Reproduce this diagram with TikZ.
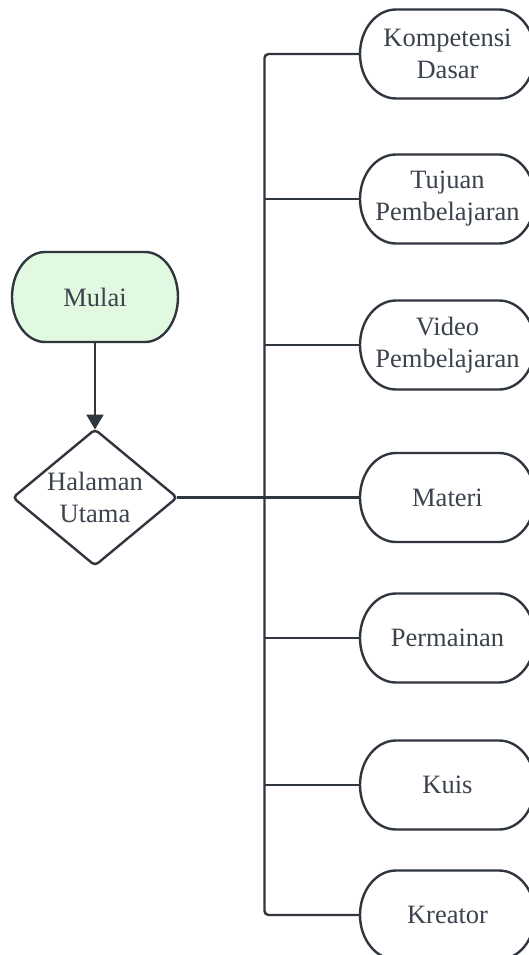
\documentclass[tikz,border=0pt]{standalone}
\usepackage{fontspec}
\setmainfont{Liberation Serif}
\usetikzlibrary{arrows.meta,calc,backgrounds}
\definecolor{ln}{HTML}{30363E}
\definecolor{tx}{HTML}{3C434D}
\definecolor{gr}{HTML}{E1F8E1}
\newcommand\stadium[4]{%
  \path[fill=#1,draw=ln,line width=2.4pt]
    ($(#2.north west)+(#3pt,0pt)$) -- ($(#2.north east)+(-#3pt,0pt)$)
    arc[start angle=90,end angle=-90,x radius=#3pt,y radius=#4pt]
    -- ($(#2.south west)+(#3pt,0pt)$)
    arc[start angle=270,end angle=90,x radius=#3pt,y radius=#4pt] -- cycle;}
\tikzset{
  conn/.style={draw=ln,line width=2.4pt},
  lbl/.style={font=\fontsize{26.5}{32}\selectfont, text=tx, align=center,
    inner sep=0pt, outer sep=0pt},
  rbox/.style={lbl, minimum width=175pt, minimum height=89pt},
}
\begin{document}
\begin{tikzpicture}[x=1pt,y=-1pt]
\useasboundingbox (0,0) rectangle (528,955);
\clip (0,0) rectangle (528,955);

\node[lbl, minimum width=166pt, minimum height=90pt] (mu) at (95,297) {Mulai};
\node[lbl, minimum width=164pt, minimum height=136pt] (hu) at (95,497.5) {Halaman\\Utama};

\node[rbox] (kd) at (447.5,54)  {Kompetensi\\Dasar};
\node[rbox] (tp) at (447.5,199) {Tujuan\\Pembelajaran};
\node[rbox] (vp) at (447.5,345) {Video\\Pembelajaran};
\node[rbox] (mt) at (447.5,497.5) {Materi};
\node[rbox] (pm) at (447.5,638) {Permainan};
\node[rbox] (ku) at (447.5,785) {Kuis};
\node[rbox] (kr) at (447.5,915) {Kreator};

\begin{scope}[on background layer]
  \fill[white] (0,0) rectangle (528,955);
  \stadium{gr}{mu}{33}{45}
  \path[fill=white,draw=ln,line width=2.4pt,rounded corners=4pt]
    (hu.north) -- (hu.east) -- (hu.south) -- (hu.west) -- cycle;
  \foreach \n in {kd,tp,vp,mt,pm,ku,kr}{\stadium{white}{\n}{36}{44.5}}
\end{scope}

\coordinate (tx) at (264.5,0);
\draw[conn,-{Triangle[width=17pt,length=15pt]}] (mu.south) -- (hu.north);
\draw[conn] (hu.east) -- (mt.west);
\draw[conn,rounded corners=4pt] (kd.west) -- (kd.west -| tx) -- (kr.west -| tx) -- (kr.west);
\foreach \n in {tp,vp,pm,ku}{\draw[conn] (\n.west) -- (\n.west -| tx);}
\end{tikzpicture}
\end{document}
